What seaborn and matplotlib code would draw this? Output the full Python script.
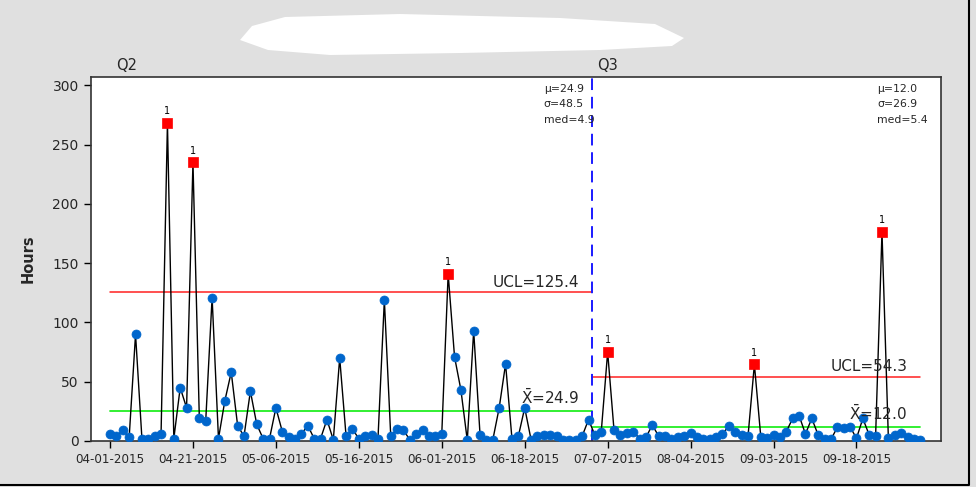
import numpy as np
import pandas as pd
import matplotlib
matplotlib.use("Agg")
import matplotlib.pyplot as plt
import matplotlib.transforms as mtransforms
from matplotlib.patches import Polygon
from matplotlib.lines import Line2D
import seaborn as sns

q2_hours = [6, 4, 9, 3, 90, 2, 2, 4, 6, 268,
            2, 45, 28, 235, 19, 17, 121, 2, 34, 58,
            13, 4, 42, 14, 2, 2, 28, 8, 3, 2,
            6, 13, 2, 2, 18, 1, 70, 4, 10, 2,
            4, 5, 2, 119, 4, 10, 9, 1, 6, 9,
            4, 4, 6, 141, 71, 43, 0.5, 93, 5, 1,
            1, 28, 65, 2, 4, 28, 1, 4, 5, 5,
            4, 1, 1, 1, 4, 18]
q3_hours = [5, 8, 75, 9, 5, 7, 8, 2, 3, 13.5,
            4, 4, 2, 3, 4, 7, 3, 2, 1.5, 3.6,
            6, 12.6, 8, 5, 4, 64.6, 3.6, 2.2, 5, 3,
            8, 19, 21.5, 6, 19, 5, 2, 1.4, 11.5, 10.7,
            12, 2.2, 19, 5, 4.2, 176.4, 2.2, 5, 6.4, 3.6,
            1.4, 0.8]
stage_names = ["Q2", "Q3"]
ucl_values = [125.4, 54.3]
mean_values = [24.9, 12.0]
sigma_values = [48.5, 26.9]
median_values = [4.9, 5.4]
tick_labels = ["04-01-2015", "04-21-2015", "05-06-2015", "05-16-2015", "06-01-2015",
               "06-18-2015", "07-07-2015", "08-04-2015", "09-03-2015", "09-18-2015"]
tick_step = 13

hours = q2_hours + q3_hours
df = pd.DataFrame({
    "obs": np.arange(len(hours)),
    "Hours": hours,
    "stage": ["Q2"] * len(q2_hours) + ["Q3"] * len(q3_hours),
})
df["ucl"] = df["stage"].map(dict(zip(stage_names, ucl_values)))
df["out"] = df["Hours"] > df["ucl"]

sns.set_style("white")
plt.rcParams["font.family"] = ["DejaVu Sans"]

bg = "#e0e0e0"
fig = plt.figure(figsize=(9.76, 4.87), dpi=100, facecolor=bg)
ax = fig.add_axes([90.5 / 976, 1 - 441 / 487, (941 - 90.5) / 976, (441 - 77) / 487])
ax.set_facecolor("white")

# connecting line and points
sns.lineplot(data=df, x="obs", y="Hours", color="black", lw=1.0, ax=ax, zorder=2)
sns.scatterplot(data=df[~df["out"]], x="obs", y="Hours", marker="o", s=42,
                color="#0066cc", edgecolor="#0066cc", linewidth=0.5, ax=ax, zorder=3)
sns.scatterplot(data=df[df["out"]], x="obs", y="Hours", marker="s", s=48,
                color="#ff0000", edgecolor="#ff0000", linewidth=0.5, ax=ax, zorder=4)
for _, r in df[df["out"]].iterrows():
    ax.annotate("1", (r["obs"], r["Hours"]), xytext=(0, 8.5), textcoords="offset points",
                ha="center", va="center", fontsize=7, color="black")

# stage limits
n2 = len(q2_hours)
bounds = [(0, n2 - 0.5), (n2 - 0.5, len(hours) - 1)]
for (x0, x1), name, ucl, mu, sd, med in zip(bounds, stage_names, ucl_values,
                                            mean_values, sigma_values, median_values):
    ax.plot([x0, x1], [ucl, ucl], color="#ff2020", lw=1.1, zorder=1)
    ax.plot([x0, x1], [mu, mu], color="#22ee22", lw=1.3, zorder=1)
    ax.annotate(f"UCL={ucl:.1f}", (x1 - 2, ucl), xytext=(0, 2), textcoords="offset points",
                ha="right", va="bottom", fontsize=11)
    ax.annotate(r"$\mathrm{\bar{X}}$" + f"={mu:.1f}", (x1 - 2, mu), xytext=(0, 3),
                textcoords="offset points", ha="right", va="bottom", fontsize=11)
    ax.text(x1 - 7.5 if name == "Q2" else x1 - 6.8, 301,
            f"\u03bc={mu:.1f}\n\u03c3={sd:.1f}\nmed={med:.1f}",
            ha="left", va="top", fontsize=7.8, linespacing=1.65)
    tr = mtransforms.blended_transform_factory(ax.transData, ax.transAxes)
    ax.text(x0 + (1.0 if name == "Q2" else 0.9), 1.01, name, transform=tr,
            ha="left", va="bottom", fontsize=10.5)

ax.axvline(n2 - 0.5, color="#1a1aff", lw=1.4, ls=(0, (6, 3.5)), zorder=1)

ax.set_xlim(-3.06, 130.25)
ax.set_ylim(0, 307)
ax.set_xticks(np.arange(len(tick_labels)) * tick_step)
ax.set_xticklabels(tick_labels, fontsize=8.6)
ax.set_yticks(np.arange(0, 301, 50))
ax.tick_params(axis="y", labelsize=10)
ax.tick_params(direction="out", length=5, width=1, color="black", bottom=True, left=True)
ax.set_xlabel("")
ax.set_ylabel("Hours", fontsize=10.5, fontweight="bold", labelpad=12)
for s in ax.spines.values():
    s.set_color("#333333")
    s.set_linewidth(1.2)

# whited-out title area and outer frame (bottom and right edges)
px = lambda x, y: (x / 976, 1 - y / 487)
blob = [px(240, 40), px(252, 26), px(285, 17), px(400, 14), px(560, 18), px(655, 24),
        px(684, 38), px(672, 46), px(600, 50), px(460, 53), px(330, 55), px(268, 50)]
fig.patches.append(Polygon(blob, closed=True, transform=fig.transFigure,
                           facecolor="white", edgecolor="none"))
fig.lines.append(Line2D([px(0, 485)[0], px(969, 485)[0], px(969, 0)[0]],
                        [px(0, 485)[1], px(969, 485)[1], px(969, 0)[1]],
                        transform=fig.transFigure, color="black", lw=1.5))

fig.savefig("out.png", dpi=100, facecolor=bg)
